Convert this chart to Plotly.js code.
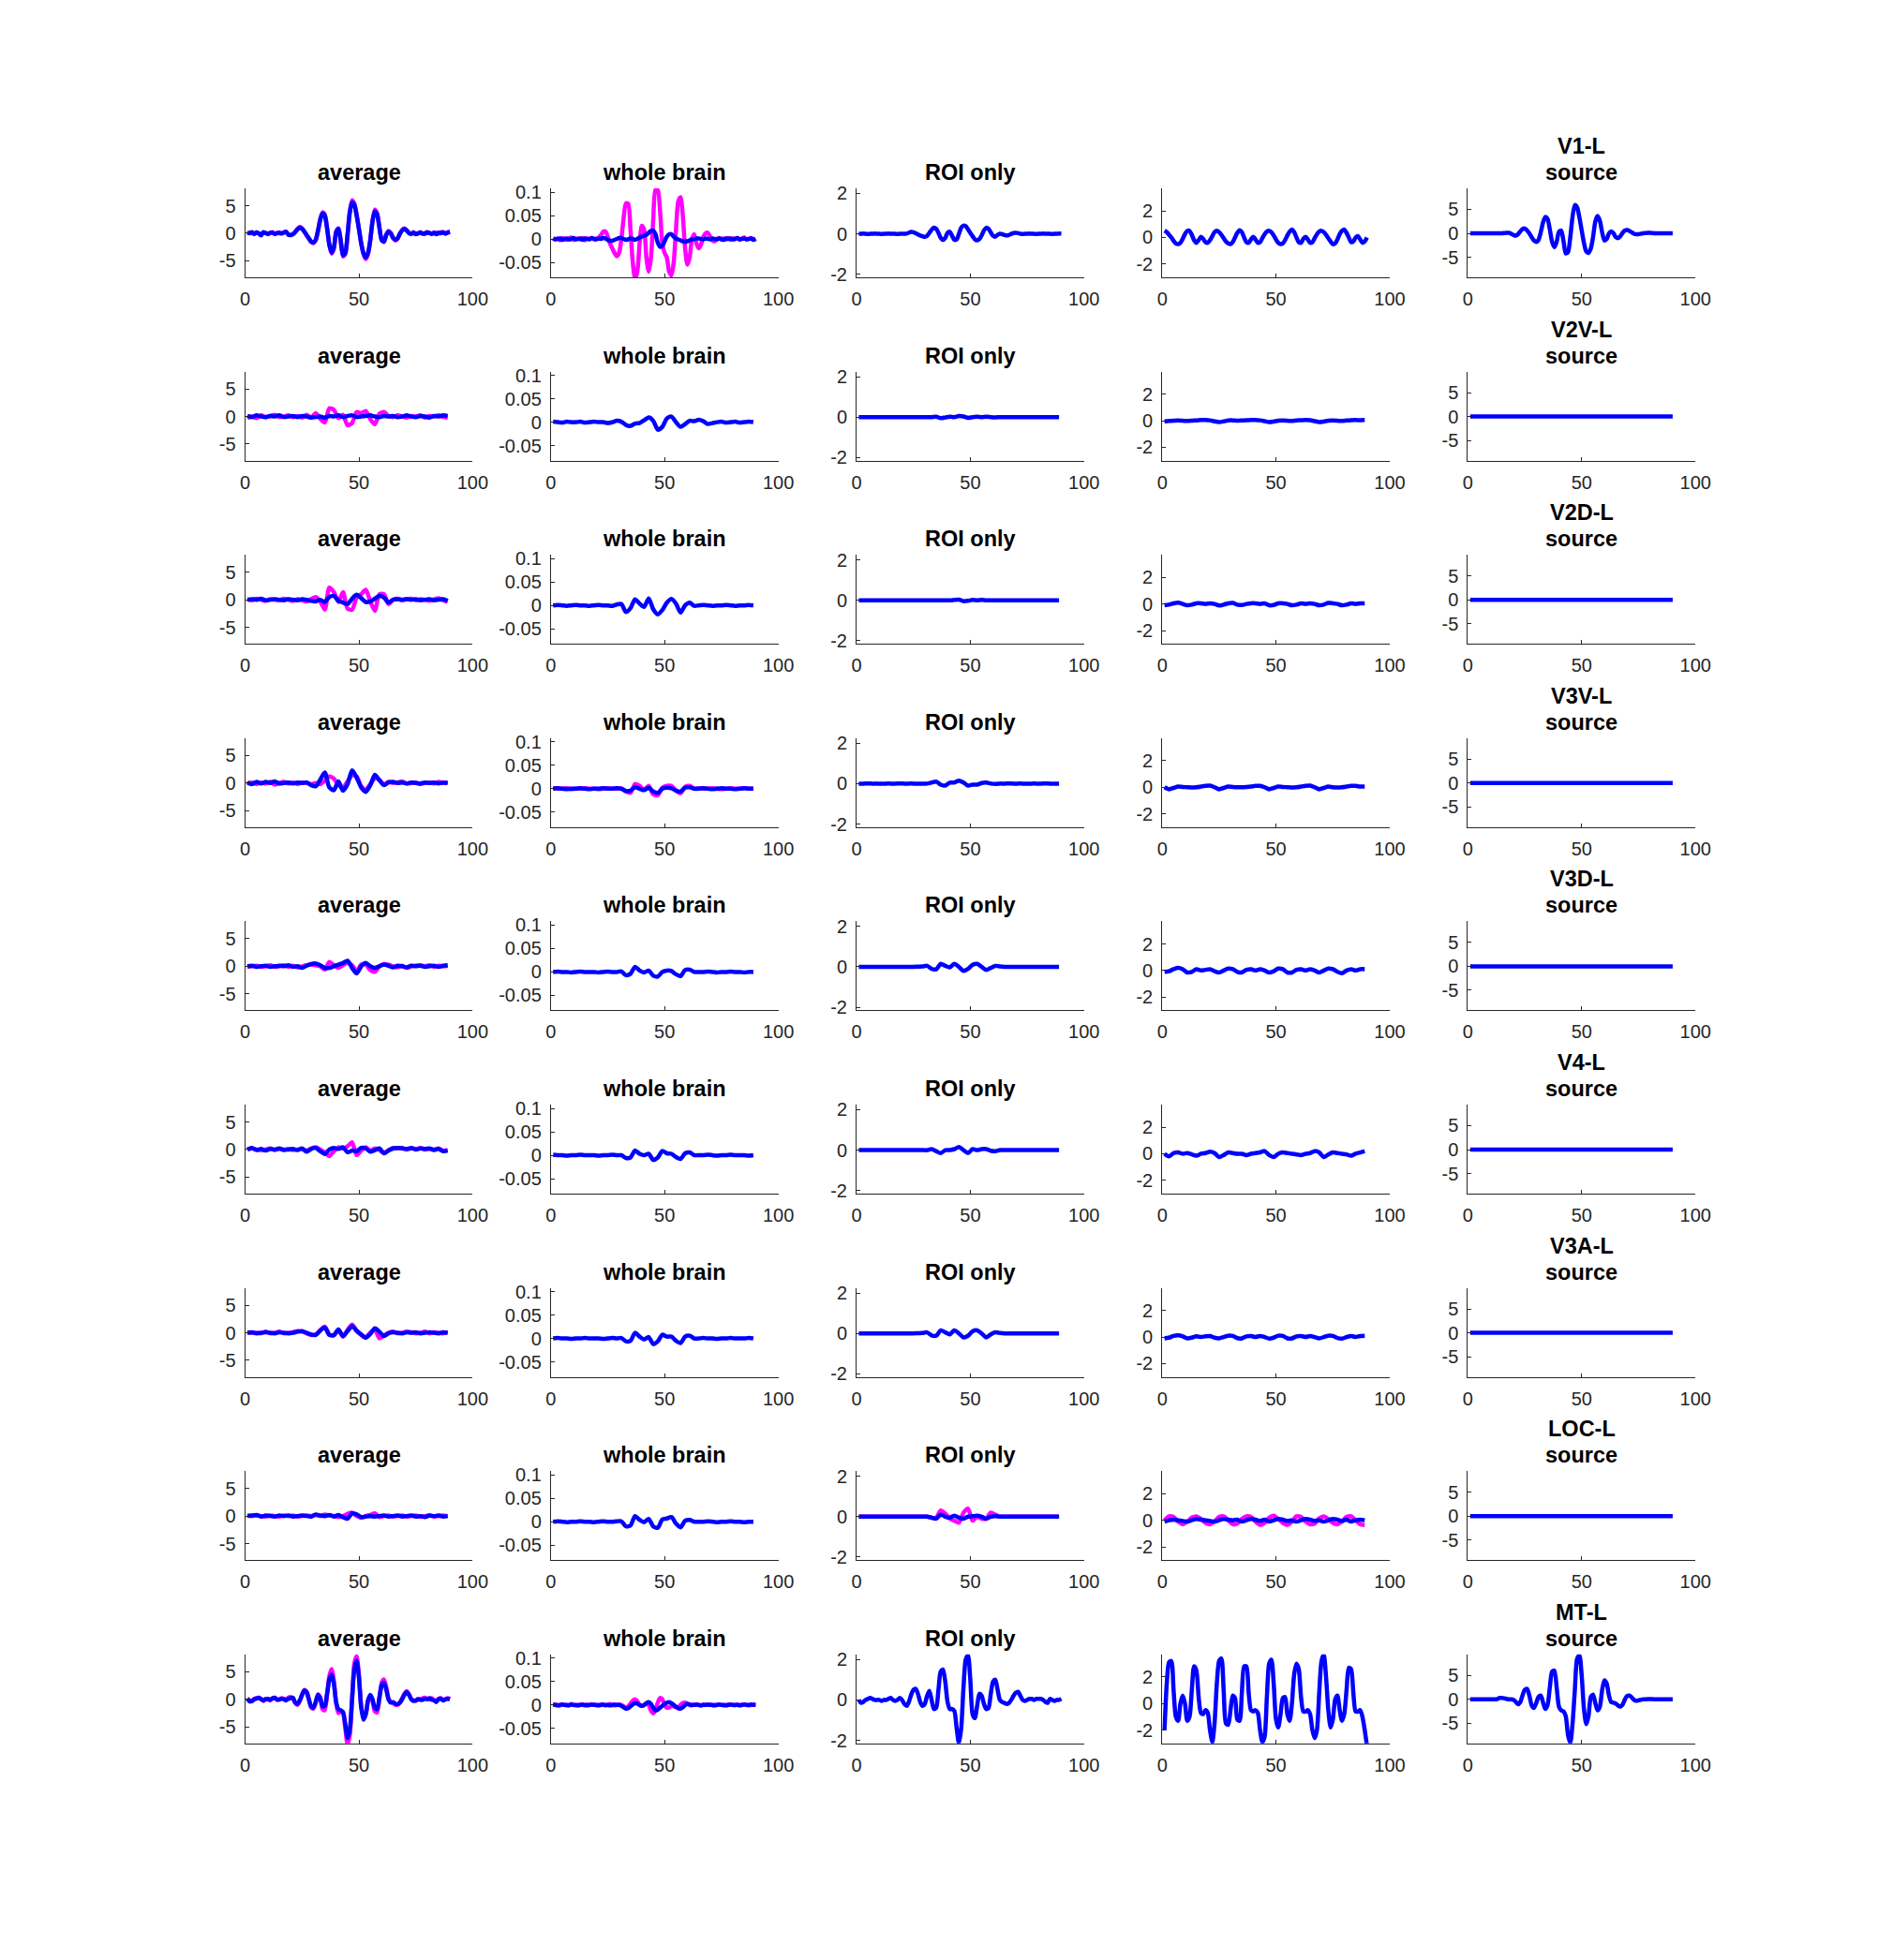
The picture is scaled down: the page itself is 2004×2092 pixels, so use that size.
<!DOCTYPE html>
<html>
<head>
<meta charset="utf-8">
<script src="https://cdn.plot.ly/plotly-3.0.1.min.js"></script>
<style>
html,body{margin:0;padding:0;background:#fff;}
#chart{width:2004px;height:2092px;}
</style>
</head>
<body>
<div id="chart"></div>
<script>
// ---------------- sample positions ----------------
const T = [1,2,3,4,5,6,7,8,9,10,11,12,13,14,15,16,17,18,19,20,
21,22,23,24,25,26,27,28,29,30,31,32,33,34,35,36,37,38,39,40,
41,42,43,44,45,46,47,48,49,50,51,52,53,54,55,56,57,58,59,60,
61,62,63,64,65,66,67,68,69,70,71,72,73,74,75,76,77,78,79,80,
81,82,83,84,85,86,87,88,89,90];
const T2 = [1,3,5,7,9,11,13,15,17,19,21,23,25,27,29,31,33,35,37,39,
41,43,45,47,49,51,53,55,57,59,61,63,65,67,69,71,73,75,77,79,81,83,85,87,89];
const FLAT_X = [1, 90];
const FLAT_Y = [0, 0];

// ---------------- labels ----------------
const regions = ['V1-L','V2V-L','V2D-L','V3V-L','V3D-L','V4-L','V3A-L','LOC-L','MT-L'];
const colTitles = ['average','whole brain','ROI only','','source'];
const xTickVals = [0, 50, 100];
const xTickText = ['0','50','100'];
const yTickVals = [[-5,0,5],[-0.05,0,0.05,0.1],[-2,0,2],[-2,0,2],[-5,0,5]];
const yTickText = [['-5','0','5'],['-0.05','0','0.05','0.1'],['-2','0','2'],['-2','0','2'],['-5','0','5']];
const yRanges = [[-8.0,8.15],[-0.082,0.108],[-2.15,2.25],[-3.0,3.7],[-9.2,9.4]];

// ---------------- row 1: V1-L ----------------
const avgV1_m = [0,0.1,0.1,-0.2,0.2,-0.1,-0.3,0.1,0.1,-0.2,
0,0.2,-0.2,0.1,0,-0.1,0.2,0.2,-0.2,-0.4,
-0.1,0.3,0.8,1.2,0.9,0.3,-0.4,-1.0,-1.6,-1.8,
-1.3,0.5,2.6,3.8,3.4,1.0,-2.2,-3.7,-2.8,0.3,
0.9,-1.4,-4.2,-3.8,-0.3,4.0,6.0,5.4,3.4,0.8,
-1.9,-3.8,-4.7,-3.8,-1.3,2.4,4.3,3.6,1.1,-1.3,
-1.6,-0.3,0.4,0.0,-0.9,-1.3,-1.0,-0.1,0.6,0.9,
0.5,0.1,-0.2,0.2,-0.1,-0.1,0.2,0.0,-0.2,0.1,
0.1,-0.2,0.0,0.1,-0.1,0.2,0.1,0.0,0.2,0.3];
const avgV1_b = [0.1,0,0.2,-0.1,0.1,0,-0.4,0.2,0,-0.1,
0.1,0.1,-0.1,0,0.1,0,0.1,0.3,-0.3,-0.3,
-0.2,0.2,0.7,1.0,0.8,0.3,-0.3,-0.9,-1.5,-1.7,
-1.2,0.4,2.4,3.6,3.2,0.9,-2.0,-3.5,-2.6,0.2,
0.8,-1.3,-4.0,-3.6,-0.3,3.8,5.6,5.1,3.2,0.8,
-1.8,-3.6,-4.4,-3.6,-1.2,2.2,4.0,3.4,1.0,-1.2,
-1.5,-0.3,0.3,0.0,-0.8,-1.2,-0.9,-0.1,0.5,0.8,
0.5,0.0,-0.1,0.1,-0.2,0.0,0.1,-0.1,0.0,0.2,
0.0,-0.1,0.1,-0.2,0.1,0.0,0.2,-0.1,0.1,0.2];
const wbV1_m = [0.002,-0.001,0.001,-0.003,0.002,0,-0.002,0.001,0.003,-0.002,
0,0.001,-0.001,0.002,-0.003,0.001,0,0.002,-0.001,0.001,
0.003,0.008,0.015,0.016,0.005,-0.01,-0.02,-0.03,-0.037,-0.03,
0.0,0.045,0.076,0.075,0.02,-0.05,-0.084,-0.07,-0.01,0.028,
0.02,-0.04,-0.07,-0.04,0.04,0.105,0.104,0.06,-0.01,-0.03,
-0.04,-0.07,-0.078,-0.05,0.02,0.08,0.089,0.05,-0.02,-0.055,
-0.04,0.0,0.01,-0.01,-0.02,-0.012,0.004,0.012,0.013,0.005,
-0.003,-0.005,0.0,0.002,-0.002,0.001,-0.001,0.002,-0.002,0.001,
0.0,0.002,-0.002,0.001,0.003,-0.001,0.0,0.002,-0.001,0.001];
const wbV1_b = [0.001,-0.001,0,0.001,-0.002,0,0.001,-0.001,0,0.002,
-0.001,0,0.001,-0.002,0.001,0,-0.001,0.002,0,-0.001,
0.001,0,0.002,0.001,-0.002,-0.004,-0.004,-0.002,0.0,0.002,
0.002,0.0,-0.002,-0.001,0.001,0.0,-0.002,0.0,0.003,0.005,
0.007,0.009,0.013,0.017,0.018,0.01,-0.008,-0.017,-0.015,-0.005,
0.005,0.01,0.01,0.005,0.001,-0.001,-0.003,-0.005,-0.006,-0.005,
-0.003,-0.001,0.0,0.001,0.001,0.0,-0.001,0.001,0.0,-0.001,
0.001,0,-0.001,0.001,0,-0.002,0.001,0,0.001,-0.001,
0,0.002,-0.001,0,0.001,-0.001,0,0.001,-0.002,0];
const roiV1_b = [0,0,0.01,0,-0.01,0,0,0.01,0,0,
-0.01,0,0,0.01,0,0,0,-0.01,0,0,
0,0.01,0.05,0.1,0.08,0.03,-0.03,-0.08,-0.12,-0.15,
-0.1,0.05,0.2,0.3,0.25,0.05,-0.2,-0.3,-0.2,0.05,
0.1,-0.1,-0.3,-0.28,0.0,0.3,0.4,0.38,0.22,0.05,
-0.12,-0.27,-0.32,-0.26,-0.08,0.17,0.3,0.25,0.07,-0.1,
-0.14,-0.05,0.0,-0.02,-0.06,-0.08,-0.06,0.0,0.04,0.05,
0.03,0,-0.01,0,0,0.01,0,0,-0.01,0,
0,0.01,0,0,0,-0.01,0,0,0.01,0];
const c4V1_b = [0.5,0.4,0.2,0.0,-0.25,-0.45,-0.5,-0.4,-0.1,0.25,
0.5,0.5,0.2,-0.2,-0.4,-0.2,0.05,-0.1,-0.35,-0.4,
-0.2,0.1,0.4,0.5,0.4,0.2,-0.05,-0.3,-0.45,-0.5,
-0.35,0.0,0.35,0.55,0.4,0.0,-0.35,-0.4,-0.15,0.05,
-0.15,-0.4,-0.35,-0.05,0.25,0.45,0.5,0.4,0.15,-0.15,
-0.4,-0.5,-0.45,-0.2,0.15,0.45,0.6,0.4,0.0,-0.35,
-0.4,-0.1,0.05,-0.15,-0.4,-0.35,-0.05,0.25,0.45,0.5,
0.4,0.2,-0.05,-0.3,-0.5,-0.45,-0.15,0.25,0.5,0.6,
0.35,0.0,-0.35,-0.3,0.0,0.1,-0.15,-0.4,-0.3,0.0];
const srcV1 = [0,0,0,0,0,0,0,0,0,0,
0,0,0,0,0,0.05,0.1,0.1,-0.1,-0.35,
-0.5,-0.2,0.4,0.9,1.0,0.6,0.0,-0.8,-1.5,-1.8,
-1.4,0.2,2.2,3.4,3.0,0.8,-1.8,-2.9,-1.8,0.3,
0.6,-1.6,-4.2,-3.9,-0.8,3.5,5.9,5.4,3.3,0.6,
-2.0,-3.8,-4.1,-3.2,-0.8,2.5,3.6,2.6,0.2,-1.5,
-1.2,0.0,0.4,0.0,-0.8,-1.0,-0.6,0.1,0.6,0.7,
0.5,0.2,-0.1,-0.2,-0.2,-0.1,0.0,0.05,0.1,0.1,
0.05,0,0,0,0,0,0,0,0,0];

// ---------------- row 2: V2V-L ----------------
const avgV2V_m = [-0.3,0.0,-0.3,0.2,-0.1, 0.1,0.3,-0.1,0.0,0.2, -0.1,0.1,-0.2,0.3,-0.2,
0.6,-0.4,-1.1,1.5,1.2, -0.3,0.3,-1.6,-1.2,0.8, 0.6,1.0,-0.5,-1.4,0.5,
0.8,0.1,-0.1,0.2,0.0, -0.2,0.1,0.0,0.2,-0.2, 0.1,0.0,0.2,-0.1,-0.2];
const avgV2V_b = [0.1,-0.1,0.2,0.0,-0.1, 0.1,0.0,0.2,-0.1,0.0, 0.1,-0.1,0.1,0.0,-0.2,
-0.1,0.0,-0.2,0.1,0.0, 0.2,-0.1,0.1,0.2,-0.1, 0.0,0.1,0.2,0.0,-0.1,
0.1,0.0,0.1,-0.1,0.0, 0.2,0.0,-0.1,0.1,0.0, -0.2,0.1,0.0,0.2,0.1];
const wbV2V_b = [0.001,0,-0.001,0.001,0, 0,0.001,-0.001,0,0.001, 0,0,-0.002,0,0.003,
0.001,-0.006,-0.008,-0.003,-0.002, 0.004,0.01,0.003,-0.016,-0.01, 0.008,0.012,0.0,-0.01,-0.004,
0.003,0.002,0.005,0.002,-0.004, -0.002,0,0.001,-0.001,0, 0.001,-0.001,0,0.001,0];
const roiV2V_b = [0,0,0,0,0, 0,0,0,0,0, 0,0,0,0,0,
0,0,0.02,-0.05,-0.02, 0.02,0.0,0.05,0.03,-0.04, 0.0,0.02,0.0,0.02,0.0,
-0.01,0,0,0,0, 0,0,0,0,0, 0,0,0,0,0];
const c4V2V_b = [-0.05,-0.02,0.0,0.02,0.0, -0.02,0.0,0.03,0.05,0.06, 0.03,-0.05,-0.1,-0.05,0.02,
0.03,0.0,0.02,0.04,0.05, 0.06,0.03,-0.03,-0.1,-0.06, 0.0,0.02,0.0,-0.02,0.02,
0.04,0.06,0.04,-0.03,-0.1, -0.06,0.0,0.02,0.0,-0.02, 0.02,0.04,0.05,0.04,0.05];

// ---------------- row 3: V2D-L ----------------
const avgV2D_m = [0.1,-0.1,0.2,0.0,-0.2, 0.1,0.0,-0.1,0.2,0.0, -0.2,0.1,-0.1,-0.3,0.1,
0.5,-0.3,-1.8,2.2,1.4, -0.4,1.4,-1.6,-1.8,0.4, 1.0,1.8,-0.3,-2.0,1.0,
1.0,-0.8,0.0,0.2,-0.1, 0.1,0.2,-0.1,0.1,0.0, -0.2,0.1,0.3,-0.1,-0.4];
const avgV2D_b = [0.0,0.1,0.0,0.2,-0.1, 0.0,0.1,0.0,-0.1,0.1, 0.0,-0.1,0.1,0.0,-0.2,
-0.3,0.0,-0.4,0.5,0.7, -0.2,-0.5,-0.8,0.2,0.9, 0.3,-0.4,-0.3,0.2,0.7,
0.4,-0.5,0.0,0.1,0.0, 0.1,0.0,0.1,-0.1,0.0, 0.1,-0.1,0.0,0.1,-0.2];
const wbV2D_b = [0,0.001,0,-0.001,0, 0.001,0,0,-0.001,0, 0.001,0,0,-0.001,0.002,
0.003,-0.014,-0.006,0.013,0.004, -0.003,0.015,-0.008,-0.019,-0.01, 0.006,0.014,0.004,-0.015,0.0,
0.006,-0.001,0.0,0.001,0, -0.001,0,0,0.001,0, -0.001,0,0,0.001,0];
const roiV2D_b = [0,0,0,0,0, 0,0,0,0,0, 0,0,0,0,0,
0,0,0,0,0, 0.0,0.02,0.04,-0.04,-0.02, 0.02,0,0.02,0,0,
0,0,0,0,0, 0,0,0,0,0, 0,0,0,0,0];
const c4V2D_b = [-0.1,-0.05,0.05,0.1,0.0, -0.1,-0.05,0.05,0.05,0.0, 0.05,0.0,-0.12,-0.05,0.05,
0.08,-0.05,-0.08,0.0,0.05, 0.05,0.0,0.05,-0.1,-0.08, 0.05,0.05,0.0,-0.1,-0.05,
0.05,0.0,0.05,0.0,-0.1, -0.05,0.08,0.05,0.0,-0.1, -0.05,0.05,0.0,0.05,0.05];

// ---------------- row 4: V3V-L ----------------
const avgV3V_m = [-0.1,0.1,-0.2,0.1,-0.1, 0.2,-0.3,0.0,0.2,-0.1, 0.1,-0.2,0.1,0.0,-0.2,
0.0,-0.2,0.4,1.2,0.8, -0.4,-0.8,0.3,1.4,1.2, -0.6,-1.2,-0.2,0.8,0.6,
-0.3,0.2,0.0,0.1,0.3, -0.1,0.0,0.1,-0.2,0.0, 0.1,-0.1,0.2,0.0,0.1];
const avgV3V_b = [0.1,-0.2,0.2,-0.1,0.2, 0.0,0.3,-0.1,0.0,0.1, -0.1,0.1,0.0,0.1,-0.4,
-0.6,0.6,1.9,-0.8,-1.3, 0.3,-1.4,-0.2,2.3,1.0, -0.8,-1.6,-0.4,1.5,0.5,
-0.4,0.1,0.2,0.0,0.1, -0.1,0.1,0.0,-0.1,0.1, 0.0,0.1,-0.1,0.1,0.0];
const wbV3V_m = [0.001,0,0,0.001,-0.001, 0,0,0.001,0,0, -0.001,0,0.001,0,0,
0.001,-0.006,-0.009,0.01,0.006, -0.002,0.006,-0.012,-0.014,0.002, 0.006,0.006,-0.004,-0.01,0.004,
0.006,0.0,0.001,0,0, 0.001,0,-0.001,0,0.001, 0,0,0.001,0,0];
const wbV3V_b = [0,0.001,0,-0.001,0, 0,0.001,0,-0.001,0, 0,0.001,0,0,0.001,
0.0,-0.005,-0.004,0.003,0.0, -0.003,0.002,-0.006,-0.009,0.0, 0.002,0.001,-0.004,-0.006,0.002,
0.003,0.0,0,0.001,0, -0.001,0,0.001,0,0, -0.001,0,0.001,0,0];
const roiV3V_b = [0,0,0.01,0,0, -0.01,0,0,0,0.01, 0,0,0,-0.01,0,
0,0.05,0.1,-0.05,-0.1, 0.05,0.05,0.15,0.05,-0.1, -0.05,-0.05,0.03,0.05,0.0,
-0.02,0,0,0.01,0, 0,0,-0.01,0,0, 0,0.01,0,0,0];
const c4V3V_b = [0.0,-0.15,-0.05,0.05,0.02, 0.0,-0.02,0.0,0.05,0.1, 0.12,0.0,-0.15,-0.05,0.05,
0.02,0.0,0.0,0.02,0.05, 0.1,0.1,0.0,-0.15,-0.05, 0.05,0.02,0.0,-0.02,0.0,
0.05,0.1,0.12,0.0,-0.15, -0.05,0.05,0.0,-0.02,0.0, 0.05,0.1,0.1,0.05,0.05];

// ---------------- row 5: V3D-L ----------------
const avgV3D_m = [-0.1,0.0,0.1,-0.1,0.0, 0.2,-0.1,0.0,0.2,-0.1, 0.1,-0.2,0.0,0.2,0.3,
0.2,0.0,-0.6,0.8,0.2, -0.3,0.2,0.6,0.2,-0.9, 0.3,0.3,-0.7,-1.0,0.0,
0.4,0.3,0.0,-0.2,0.1, -0.3,0.0,0.1,0.2,0.0, 0.2,-0.1,0.1,0.0,0.1];
const avgV3D_b = [0.0,0.1,-0.1,0.0,0.1, -0.1,0.0,0.1,0.0,0.2, -0.1,0.0,-0.3,0.1,0.4,
0.5,0.2,-0.3,-0.3,0.0, 0.3,0.6,1.0,-0.3,-1.3, 0.0,0.6,0.0,-0.3,0.0,
0.3,0.1,-0.2,0.1,0.0, -0.2,0.1,0.0,0.1,-0.1, 0.0,0.1,-0.1,0.1,0.2];
const wbV3D_b = [0,0.001,0,0,-0.001, 0,0.001,0,0,0, -0.001,0,0.001,0,0,
0.001,-0.007,-0.004,0.011,0.003, -0.001,0.003,-0.008,-0.01,0.0, 0.003,0.002,-0.005,-0.009,0.004,
0.005,0.0,0,0,0.001, 0,-0.001,0,0,0.001, 0,0,-0.001,0,0];
const roiV3D_b = [0,0,0,0,0, 0,0,0,0,0, 0,0,0,0.01,0.02,
0.05,-0.1,-0.12,0.15,0.05, -0.02,0.15,0.0,-0.2,-0.1, 0.1,0.15,0.0,-0.15,-0.05,
0.05,0.02,0,0,0, 0,0,0,0,0, 0,0,0,0,0];
const c4V3D_b = [-0.1,-0.05,0.1,0.2,0.1, -0.15,-0.1,0.1,0.0,0.05, 0.1,-0.05,-0.15,0.0,0.15,
0.1,-0.1,-0.15,0.05,0.1, 0.0,0.1,0.0,-0.15,-0.05, 0.15,0.1,-0.15,-0.15,0.05,
0.1,0.0,0.1,0.0,-0.15, 0.0,0.15,0.1,-0.1,-0.2, 0.0,0.1,0.0,0.1,0.1];

// ---------------- row 6: V4-L ----------------
const avgV4_m = [0.1,0.2,0.0,-0.1,0.0, 0.2,-0.1,0.1,0.0,0.1, -0.1,0.0,0.1,-0.2,0.2,
0.4,0.0,-0.5,-1.2,-0.3, 0.4,0.2,0.6,1.3,-1.0, -0.2,0.4,-0.2,0.2,-0.1,
-0.6,-0.1,0.3,0.2,0.3, 0.0,0.2,0.1,0.3,0.0, 0.1,0.0,0.2,-0.2,-0.1];
const avgV4_b = [0.0,0.3,-0.1,0.1,-0.2, 0.1,0.0,0.2,-0.1,0.0, 0.1,-0.1,0.2,-0.4,0.1,
0.3,-0.3,-0.8,0.0,0.3, 0.1,0.4,-0.5,-0.2,-0.3, 0.3,0.2,-0.4,-0.1,0.2,
-0.7,-0.2,0.2,0.3,0.2, 0.1,0.3,0.0,0.2,0.1, 0.2,-0.1,0.1,-0.3,-0.2];
const wbV4_b = [0.001,0,0,-0.001,0, 0,0.001,0,0,0, -0.001,0,0,0.001,0,
0.0,-0.006,-0.005,0.01,0.003, 0.0,0.003,-0.01,-0.005,0.009, 0.004,0.003,-0.004,-0.008,0.004,
0.006,0.0,0,0,0.001, 0,-0.001,0,0,0.001, 0,0,0,-0.001,0];
const roiV4_b = [0,0,0,0,0, 0,0,0,0,0, 0,0,0,0,0,
0,0.05,-0.05,-0.15,0.0, 0.0,0.05,0.15,0.0,-0.15, 0.05,0.0,0.05,0.05,-0.03,
-0.05,0.0,0,0,0, 0,0,0,0,0, 0,0,0,0,0];
const c4V4_b = [0.0,-0.2,0.05,0.1,0.0, 0.05,-0.05,-0.15,0.0,0.05, 0.15,0.05,-0.25,-0.1,0.1,
0.05,0.0,0.0,-0.1,0.0, 0.05,0.1,0.2,-0.1,-0.25, 0.0,0.1,0.05,0.0,-0.05,
-0.1,0.0,0.05,0.2,0.1, -0.25,-0.05,0.1,0.05,0.0, -0.05,-0.15,0.0,0.1,0.2];

// ---------------- row 7: V3A-L ----------------
const avgV3A_m = [0.1,0.0,0.0,-0.1,0.2, -0.1,0.0,0.2,-0.1,0.0, 0.1,0.3,0.2,-0.1,-0.4,
-0.3,0.5,1.1,-0.3,-0.5, 0.5,-0.7,0.5,1.5,0.3, -0.4,-0.8,0.0,0.6,-1.0,
-0.5,0.0,0.2,-0.1,0.0, 0.2,0.1,-0.1,0.0,0.2, -0.1,0.1,0.0,-0.1,0.1];
const avgV3A_b = [0.0,0.1,-0.1,0.0,0.1, 0.0,-0.1,0.1,0.0,-0.1, 0.0,0.2,0.3,0.0,-0.3,
-0.4,0.4,1.0,-0.4,-0.4, 0.6,-0.6,0.3,1.2,0.4, -0.3,-0.9,-0.2,0.8,0.2,
-0.6,-0.1,0.1,0.0,-0.1, 0.1,0.0,0.1,-0.1,0.0, 0.1,0.0,-0.1,0.1,0.0];
const wbV3A_b = [0,0.001,0,0,-0.001, 0,0,0.001,0,0, 0,-0.001,0,0.001,0,
0.001,-0.006,-0.005,0.012,0.004, -0.002,0.003,-0.012,-0.006,0.008, 0.004,0.004,-0.005,-0.01,0.004,
0.006,0.0,0,0.001,0, 0,-0.001,0,0,0.001, 0,0,0,0.001,0];
const roiV3A_b = [0,0,0,0,0, 0,0,0,0,0, 0,0,0,0.01,0.02,
0.05,-0.1,-0.12,0.15,0.05, -0.05,0.15,0.0,-0.2,-0.12, 0.1,0.15,0.0,-0.2,-0.05,
0.05,0.02,0,0,0, 0,0,0,0,0, 0,0,0,0,0];
const c4V3A_b = [-0.1,-0.05,0.08,0.12,0.05, -0.1,-0.05,0.05,0.0,0.05, 0.08,-0.05,-0.1,0.0,0.1,
0.08,-0.08,-0.1,0.05,0.08, 0.0,0.08,0.0,-0.12,-0.05, 0.1,0.08,-0.1,-0.1,0.05,
0.08,0.0,0.08,0.0,-0.1, 0.0,0.1,0.08,-0.08,-0.12, 0.0,0.08,0.0,0.08,0.1];

// ---------------- row 8: LOC-L ----------------
const avgLOC_m = [0.1,0.0,0.1,0.0,-0.1, 0.1,0.0,-0.1,0.1,0.0, 0.1,-0.1,0.0,0.1,0.0,
0.2,0.0,0.3,0.1,0.0, -0.2,0.0,0.4,0.6,0.0, -0.3,0.0,0.2,0.5,-0.2,
0.0,0.1,-0.1,0.0,0.1, -0.1,0.0,0.1,-0.1,0.0, 0.1,-0.1,0.0,0.1,0.0];
const avgLOC_b = [0.0,0.1,0.2,-0.1,0.1, 0.0,-0.1,0.1,0.0,0.1, -0.1,0.0,0.1,0.0,-0.1,
0.3,0.1,0.0,0.2,-0.1, 0.2,-0.2,-0.5,0.5,0.3, -0.2,-0.1,0.0,-0.1,0.0,
0.1,-0.1,0.0,0.1,-0.1, 0.0,0.1,-0.1,0.0,-0.2, 0.1,0.0,0.1,-0.1,0.0];
const wbLOC_b = [0,0.001,0,-0.001,0, 0,0.001,0,0,-0.001, 0,0.001,0,0,0.001,
0.001,-0.01,-0.008,0.012,0.004, -0.001,0.006,-0.01,-0.013,0.005, 0.007,0.01,-0.004,-0.012,0.002,
0.004,0.0,0,0,0.001, 0,-0.001,0,0,0.001, 0,0,-0.001,0,0];
const roiLOC_m = [0,0,0,0,0, 0,0,0,0,0, 0,0,0,0,0,
0,-0.05,-0.05,0.3,0.15, -0.1,-0.2,-0.3,0.2,0.4, -0.2,0.0,-0.1,-0.1,0.2,
0.1,0.0,0,0,0, 0,0,0,0,0, 0,0,0,0,0];
const roiLOC_b = [0,0,0,0,0, 0,0,0,0,0, 0,0,0,0,0,
0,-0.05,-0.1,0.1,0.0, -0.05,0.05,-0.05,-0.1,0.0, 0.02,0.05,0.0,-0.1,0.0,
0.02,0.0,0,0,0, 0,0,0,0,0, 0,0,0,0,0];
const c4LOC_m = [0.0,0.3,0.25,-0.1,-0.3, -0.1,0.2,0.3,0.1,-0.2, -0.3,-0.1,0.25,0.3,0.0,
-0.3,-0.25,0.1,0.3,0.25, -0.1,-0.35,-0.2,0.2,0.35, 0.1,-0.2,-0.35,-0.1,0.3,
0.25,-0.1,-0.3,-0.25,0.15, 0.3,0.1,-0.2,-0.3,-0.1, 0.25,0.3,0.0,-0.3,-0.35];
const c4LOC_b = [-0.1,0.0,0.05,0.0,-0.05, -0.1,0.0,0.1,0.05,0.0, -0.05,-0.1,0.0,0.1,0.05,
0.0,0.05,-0.1,0.0,0.1, 0.05,-0.05,0.05,-0.1,0.0, 0.1,0.05,-0.05,0.0,-0.1,
0.0,0.1,0.05,-0.05,0.0, -0.1,0.0,0.1,0.05,-0.05, 0.05,-0.1,0.0,0.05,0.0];

// ---------------- row 9: MT-L ----------------
const avgMT_m = [0.2,-0.2,-0.4,0.1,0.1,0.2,0.1,-0.3,0.1,0.0,
-0.2,0.1,0.2,0.0,-0.1,0.2,0.1,-0.1,0.3,0.4,
0.2,-0.7,-1.0,-0.3,0.8,1.7,1.4,0.0,-1.5,-1.7,
-0.6,0.9,0.3,-1.8,-2.0,0.8,4.2,5.5,3.4,-0.8,
-2.5,-2.2,-2.5,-5.2,-8.2,-6.5,0.2,6.5,7.8,4.4,
-1.2,-3.0,-2.6,-0.3,0.6,-0.4,-2.2,-2.4,0.2,3.0,
3.6,2.2,0.2,-0.5,-0.7,-1.0,-1.0,-0.6,0.2,1.0,
1.5,0.9,0.1,-0.2,-0.3,0.1,0.0,0.2,0.3,0.1,
0.0,0.2,-0.1,-0.3,0.1,0.2,-0.1,0.0,0.2,0.1];
const avgMT_b = [0.1,-0.4,-0.3,0.0,0.2,0.3,0.0,-0.2,0.0,0.1,
-0.1,0.2,0.3,-0.1,0.0,0.1,0.0,-0.2,0.1,0.2,
0.3,-0.6,-0.8,-0.2,0.8,1.6,1.3,0.0,-1.3,-1.5,
-0.5,0.8,0.2,-1.3,-1.2,1.0,3.6,4.5,2.8,-0.5,
-1.8,-2.0,-2.3,-4.5,-7.0,-5.5,0.0,5.5,7.0,4.0,
-1.5,-3.7,-2.8,-0.2,0.8,0.0,-1.6,-1.8,0.3,2.5,
3.0,1.8,0.0,-0.6,-0.5,-0.8,-0.9,-0.6,0.0,0.8,
1.3,0.8,0.0,-0.3,-0.2,0.0,-0.1,-0.1,0.1,0.0,
0.2,-0.1,-0.2,-0.5,0.0,0.1,-0.2,0.0,0.1,0.0];
const wbMT_m = [0,0.001,0,-0.001,0.001,0,-0.001,0,0.002,0,
-0.001,0,0.001,0,-0.001,0.001,0,0,0.001,-0.001,
0,0.001,0,-0.001,0,0.002,0,-0.001,0,0.001,
0.0,-0.003,-0.005,-0.003,0.003,0.009,0.012,0.008,0.0,-0.002,
0.0,0.003,0.0,-0.012,-0.018,-0.01,0.005,0.015,0.012,0.0,
-0.006,-0.005,-0.002,-0.003,-0.005,-0.004,0.0,0.004,0.005,0.003,
0.0,-0.001,0.001,0,0,-0.001,0.001,0,0,0.001,
-0.001,0,0,0.001,0,-0.001,0,0.001,0,0,
-0.001,0.001,0,0,0.001,0,-0.001,0,0.001,0];
const wbMT_b = [0.001,0,-0.001,0,0.001,0,0,-0.001,0.001,0,
0,-0.001,0,0.001,0,-0.001,0,0.001,0,0,
-0.001,0,0.001,0,0,-0.001,0,0.001,0,0,
-0.002,-0.005,-0.008,-0.007,-0.003,0.001,0.004,0.003,0.0,-0.002,
0.0,0.004,0.006,0.002,-0.006,-0.012,-0.01,-0.006,-0.002,0.002,
0.005,0.006,0.004,0.0,-0.004,-0.007,-0.008,-0.005,0.0,0.002,
0.001,0.0,0,0.001,0,-0.001,0,0,0.001,0,
0,-0.001,0,0.001,0,0,-0.001,0,0.001,0,
0,0,-0.001,0,0.001,0,0,0.001,0,0];
const roiMT_b = [0.0,-0.15,-0.1,0.0,0.05,0.1,0.05,0.0,0.0,0.0,
-0.05,0.0,0.0,0.05,0.1,0.0,-0.05,0.0,0.1,0.0,
-0.2,-0.3,-0.1,0.25,0.5,0.55,0.3,-0.1,-0.3,-0.2,
0.2,0.45,0.0,-0.45,-0.4,0.5,1.4,1.5,0.9,-0.1,
-0.45,-0.45,-0.55,-1.4,-2.15,-1.4,0.6,2.0,2.2,1.0,
-0.7,-0.9,-0.3,0.3,0.2,-0.2,-0.45,-0.4,0.3,0.9,
1.0,0.5,0.0,-0.1,-0.15,-0.2,-0.15,0.0,0.2,0.35,
0.4,0.2,0.0,-0.05,0.0,0.05,0.05,0.0,0.05,0.05,
0.05,0.0,-0.1,-0.15,0.05,0.0,-0.05,0.0,0.0,0.05];
const c4MT_b = [-2.0,1.5,3.1,3.2,1.0,-1.0,-1.3,0.0,0.6,0.0,
-1.3,-1.0,1.0,2.8,2.5,0.5,-0.7,-0.8,-0.5,-0.7,
-2.0,-2.9,-1.5,1.5,3.2,3.4,1.0,-1.5,-1.6,-0.5,
0.6,0.4,-1.2,-1.3,0.8,2.8,2.8,0.8,-0.5,-0.6,
-0.5,-0.7,-2.0,-2.9,-2.5,0.5,3.0,3.3,1.5,-1.2,
-1.8,-0.8,0.4,0.5,-0.8,-1.3,0.0,2.2,3.0,2.6,
0.5,-0.6,-0.6,-0.5,-0.8,-2.0,-2.6,-2.0,0.8,3.2,
3.7,2.0,-0.5,-1.8,-1.2,0.3,0.6,-0.5,-1.3,-0.8,
1.0,2.7,2.6,0.8,-0.6,-0.6,-0.5,-1.0,-2.0,-3.2];
const srcMT = [0,0,0,0,0,0,0,0,0,0,
0,0,0.1,0.3,0.3,0.2,0.1,0.0,0.0,-0.1,
-0.5,-1.0,-0.6,0.8,2.0,2.2,0.8,-1.2,-1.8,-0.8,
0.5,0.8,-0.6,-2.0,-1.2,2.5,5.8,6.0,2.5,-1.5,
-2.3,-2.5,-3.5,-7.5,-9.1,-5.0,2.0,8.5,9.2,5.0,
-2.0,-5.2,-3.5,0.5,1.0,-0.8,-2.3,-1.5,2.0,4.0,
3.3,0.8,-0.6,-0.7,-0.9,-1.3,-1.5,-1.1,0.0,0.7,
0.8,0.4,-0.1,-0.3,-0.2,-0.1,0.0,0.0,0.05,0.05,
0.05,0,0,0,0,0,0,0,0,0];

// ---------------- assemble: [magenta, blue] per column ----------------
const rowsData = [
  {x:T,  cols:[[avgV1_m,avgV1_b],[wbV1_m,wbV1_b],[null,roiV1_b],[null,c4V1_b]], srcX:T, src:srcV1},
  {x:T2, cols:[[avgV2V_m,avgV2V_b],[null,wbV2V_b],[null,roiV2V_b],[null,c4V2V_b]], srcX:FLAT_X, src:FLAT_Y},
  {x:T2, cols:[[avgV2D_m,avgV2D_b],[null,wbV2D_b],[null,roiV2D_b],[null,c4V2D_b]], srcX:FLAT_X, src:FLAT_Y},
  {x:T2, cols:[[avgV3V_m,avgV3V_b],[wbV3V_m,wbV3V_b],[null,roiV3V_b],[null,c4V3V_b]], srcX:FLAT_X, src:FLAT_Y},
  {x:T2, cols:[[avgV3D_m,avgV3D_b],[null,wbV3D_b],[null,roiV3D_b],[null,c4V3D_b]], srcX:FLAT_X, src:FLAT_Y},
  {x:T2, cols:[[avgV4_m,avgV4_b],[null,wbV4_b],[null,roiV4_b],[null,c4V4_b]], srcX:FLAT_X, src:FLAT_Y},
  {x:T2, cols:[[avgV3A_m,avgV3A_b],[null,wbV3A_b],[null,roiV3A_b],[null,c4V3A_b]], srcX:FLAT_X, src:FLAT_Y},
  {x:T2, cols:[[avgLOC_m,avgLOC_b],[null,wbLOC_b],[roiLOC_m,roiLOC_b],[c4LOC_m,c4LOC_b]], srcX:FLAT_X, src:FLAT_Y},
  {x:T,  cols:[[avgMT_m,avgMT_b],[wbMT_m,wbMT_b],[null,roiMT_b],[null,c4MT_b]], srcX:T, src:srcMT}
];

// ---------------- geometry (pixels in a 2004x2092 page) ----------------
const W = 2004, H = 2092;
const COL_LEFT = 261.6, COL_PITCH = 326.2, COL_W = 242.8;
const ROW_TOP = 201, ROW_PITCH = 195.6, ROW_H = 95;
const MAGENTA = '#FF00FF', BLUE = '#0000FF', LW = 4.5;
const AXC = '#262626';
const FONT = 'Liberation Sans, Arial, Helvetica, sans-serif';

const traces = [];
const layout = {
  width: W, height: H,
  margin: {l:0, r:0, t:0, b:0},
  paper_bgcolor: '#ffffff', plot_bgcolor: '#ffffff',
  showlegend: false,
  annotations: []
};

function axName(n){ return n === 1 ? '' : String(n); }
function lineStyle(color){ return {color: color, width: LW, shape: 'spline', smoothing: 0.7}; }

for (let r = 0; r < 9; r++) {
  const rd = rowsData[r];
  const topPx = ROW_TOP + r*ROW_PITCH;
  const botPx = topPx + ROW_H;
  const yDom = [1 - botPx/H, 1 - topPx/H];
  for (let c = 0; c < 5; c++) {
    const n = r*5 + c + 1;
    const xs = 'x' + axName(n), ys = 'y' + axName(n);
    const leftPx = COL_LEFT + c*COL_PITCH;
    const xDom = [leftPx/W, (leftPx + COL_W)/W];

    if (c < 4) {
      const [m, b] = rd.cols[c];
      if (m) traces.push({x: rd.x, y: m, xaxis: xs, yaxis: ys, type: 'scatter', mode: 'lines',
        line: lineStyle(MAGENTA), hoverinfo: 'skip'});
      traces.push({x: rd.x, y: b, xaxis: xs, yaxis: ys, type: 'scatter', mode: 'lines',
        line: lineStyle(BLUE), hoverinfo: 'skip'});
    } else {
      traces.push({x: rd.srcX, y: rd.src, xaxis: xs, yaxis: ys, type: 'scatter', mode: 'lines',
        line: lineStyle(BLUE), hoverinfo: 'skip'});
    }

    layout['xaxis' + axName(n)] = {
      domain: xDom, anchor: ys, range: [0, 100], autorange: false,
      tickmode: 'array', tickvals: xTickVals, ticktext: xTickText,
      ticks: 'inside', ticklen: 4, tickwidth: 1, tickcolor: AXC,
      showline: true, linecolor: AXC, linewidth: 1,
      showgrid: false, zeroline: false, mirror: false,
      ticklabelstandoff: 5,
      tickfont: {family: FONT, size: 20, color: AXC}
    };
    layout['yaxis' + axName(n)] = {
      domain: yDom, anchor: xs, range: yRanges[c], autorange: false,
      tickmode: 'array', tickvals: yTickVals[c], ticktext: yTickText[c],
      ticks: 'inside', ticklen: 4, tickwidth: 1, tickcolor: AXC,
      showline: true, linecolor: AXC, linewidth: 1,
      showgrid: false, zeroline: false, mirror: false,
      ticklabelstandoff: 5,
      tickfont: {family: FONT, size: 20, color: AXC}
    };

    const cx = (xDom[0] + xDom[1]) / 2;
    if (colTitles[c]) {
      layout.annotations.push({text: '<b>' + colTitles[c] + '</b>', x: cx, y: yDom[1],
        xref: 'paper', yref: 'paper', xanchor: 'center', yanchor: 'middle', yshift: 17,
        showarrow: false, font: {family: FONT, size: 23.5, color: '#000000'}});
    }
    if (c === 4) {
      layout.annotations.push({text: '<b>' + regions[r] + '</b>', x: cx, y: yDom[1],
        xref: 'paper', yref: 'paper', xanchor: 'center', yanchor: 'middle', yshift: 45,
        showarrow: false, font: {family: FONT, size: 23.5, color: '#000000'}});
    }
  }
}

Plotly.newPlot('chart', traces, layout, {staticPlot: true, displayModeBar: false});
</script>
</body>
</html>
